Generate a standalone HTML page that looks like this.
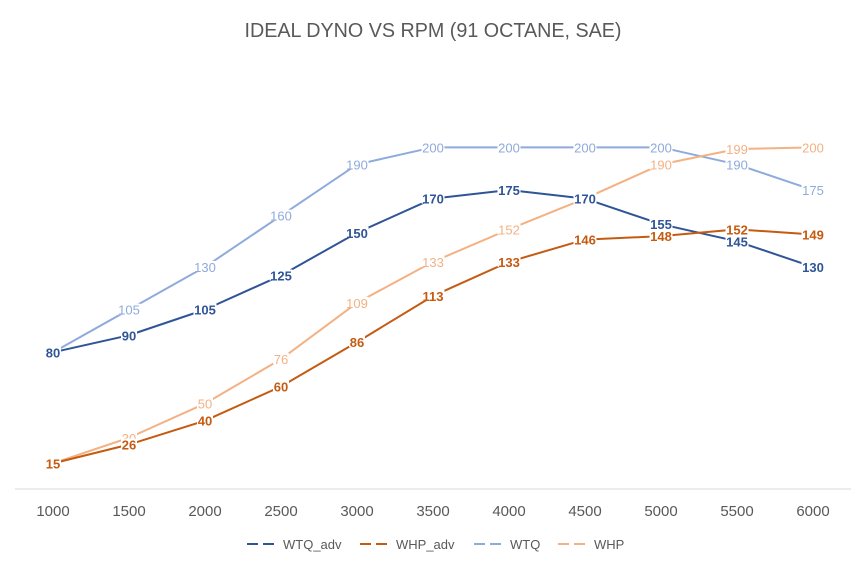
<!DOCTYPE html>
<html><head><meta charset="utf-8"><style>
html,body{margin:0;padding:0;background:#fff;}
svg{display:block;font-family:"Liberation Sans",sans-serif;}
</style></head><body>
<svg id="chart" width="865" height="565" viewBox="0 0 865 565">
<text x="433" y="37" text-anchor="middle" font-size="20" fill="#595959" textLength="377" lengthAdjust="spacingAndGlyphs">IDEAL DYNO VS RPM (91 OCTANE, SAE)</text>
<line x1="15" y1="489" x2="851" y2="489" stroke="#d9d9d9" stroke-width="1"/>
<g id="xticks"></g>
<g id="series"></g>
<g id="legend"></g>
</svg>
<script>
const categories = [1000,1500,2000,2500,3000,3500,4000,4500,5000,5500,6000];
const wtqAdv = [80,90,105,125,150,170,175,170,155,145,130];
const whpAdv = [15,26,40,60,86,113,133,146,148,152,149];
const wtq = [80,105,130,160,190,200,200,200,200,190,175];
const whp = [15,30,50,76,109,133,152,170,190,199,200];
const seriesNames = ['WTQ_adv','WHP_adv','WTQ','WHP'];

const NS='http://www.w3.org/2000/svg';
const x0=53, xStep=76, y0=489, yScale=205/120;
function xPos(i){return x0+i*xStep;}
function yPos(v){return y0-v*yScale;}
function mk(tag,attrs,parent){const e=document.createElementNS(NS,tag);for(const k in attrs)e.setAttribute(k,attrs[k]);parent.appendChild(e);return e;}

const xt=document.getElementById('xticks');
categories.forEach((c,i)=>{
  const t=mk('text',{x:xPos(i),y:516,'text-anchor':'middle','font-size':'15',fill:'#595959'},xt);
  
  
  t.textContent=c;
});

const defs=[
  {name:seriesNames[2],data:wtq,color:'#8FAADC',bold:false},
  {name:seriesNames[3],data:whp,color:'#F4B183',bold:false},
  {name:seriesNames[0],data:wtqAdv,color:'#2F5597',bold:true},
  {name:seriesNames[1],data:whpAdv,color:'#C55A11',bold:true}
];
const sg=document.getElementById('series');
defs.forEach(s=>{
  const g=mk('g',{},sg);
  
  
  const pts=s.data.map((v,i)=>xPos(i)+','+yPos(v)).join(' ');
  const pl=mk('polyline',{points:pts,fill:'none',stroke:s.color,'stroke-width':'2','stroke-linejoin':'round'},g);
  
  
  s.data.forEach((v,i)=>{
    const w=String(v).length*7+2;
    const r=mk('rect',{x:xPos(i)-w/2,y:yPos(v)-6,width:w,height:11,fill:'#fff'},g);
    
    
    const t=mk('text',{x:xPos(i),y:yPos(v)+5,'text-anchor':'middle','font-size':'13',fill:s.color,'font-weight':s.bold?'bold':'normal'},g);
    
    
    t.textContent=v;
  });
});

const lg=document.getElementById('legend');
const legendItems=[
  {name:seriesNames[0],color:'#2F5597',x:247},
  {name:seriesNames[1],color:'#C55A11',x:360},
  {name:seriesNames[2],color:'#8FAADC',x:474},
  {name:seriesNames[3],color:'#F4B183',x:558}
];
legendItems.forEach(it=>{
  const g=mk('g',{},lg);
  
  
  mk('line',{x1:it.x,y1:544,x2:it.x+32,y2:544,stroke:it.color,'stroke-width':'2','stroke-dasharray':'11,5'},g);
  const t=mk('text',{x:it.x+36,y:549,'font-size':'13',fill:'#595959'},g);
  t.textContent=it.name;
});
</script>
</body></html>
